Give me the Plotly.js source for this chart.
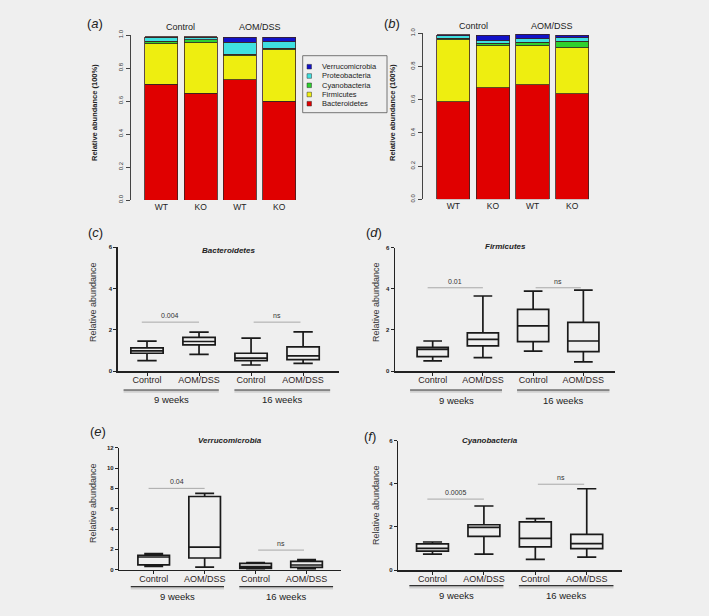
<!DOCTYPE html>
<html><head><meta charset="utf-8">
<script src="https://cdn.plot.ly/plotly-3.0.1.min.js"></script>
<style>html,body{margin:0;padding:0;background:#efefef;}</style>
</head><body><div id="chart" style="width:709px;height:616px;"></div>
<script>
// ---------- DATA ----------
const phyla = ['Bacteroidetes','Firmicutes','Cyanobacteria','Proteobacteria','Verrucomicrobia'];
const barLabels = ['WT','KO','WT','KO'];
const barTreatments = ['Control','AOM/DSS'];
// panel (a)
const aBacteroidetes   = [0.703, 0.648, 0.729, 0.600];
const aFirmicutes      = [0.244, 0.306, 0.146, 0.311];
const aCyanobacteria   = [0.015, 0.016, 0.008, 0.008];
const aProteobacteria  = [0.024, 0.016, 0.073, 0.041];
const aVerrucomicrobia = [0.002, 0.002, 0.030, 0.026];
// panel (b)
const bBacteroidetes   = [0.588, 0.673, 0.689, 0.637];
const bFirmicutes      = [0.372, 0.253, 0.237, 0.275];
const bCyanobacteria   = [0.010, 0.014, 0.020, 0.040];
const bProteobacteria  = [0.014, 0.016, 0.020, 0.022];
const bVerrucomicrobia = [0.006, 0.032, 0.028, 0.014];

const boxLabels = ['Control','AOM/DSS','Control','AOM/DSS'];
const weekLabels = ['9 weeks','16 weeks'];
// (c) Bacteroidetes
const cMin = [0.50, 0.81, 0.29, 0.37];
const cQ1  = [0.86, 1.27, 0.50, 0.55];
const cMed = [0.98, 1.43, 0.62, 0.73];
const cQ3  = [1.12, 1.63, 0.86, 1.17];
const cMax = [1.45, 1.89, 1.59, 1.90];
const cSigY = [2.37, 2.37]; const cSigText = ['0.004','ns'];
// (d) Firmicutes
const dMin = [0.49, 0.65, 0.97, 0.44];
const dQ1  = [0.70, 1.22, 1.43, 0.94];
const dMed = [1.05, 1.54, 2.20, 1.46];
const dQ3  = [1.15, 1.86, 3.00, 2.37];
const dMax = [1.46, 3.65, 3.89, 3.94];
const dSigY = [4.05, 4.05]; const dSigText = ['0.01','ns'];
// (e) Verrucomicrobia
const eMin = [0.33, 0.26, 0.07, 0.07];
const eQ1  = [0.48, 1.15, 0.13, 0.23];
const eMed = [1.25, 2.23, 0.30, 0.46];
const eQ3  = [1.42, 7.20, 0.62, 0.82];
const eMax = [1.58, 7.50, 0.69, 1.00];
const eSigY = [8.0, 1.93]; const eSigText = ['0.04','ns'];
// (f) Cyanobacteria
const fMin = [0.74, 0.74, 0.49, 0.60];
const fQ1  = [0.88, 1.56, 1.07, 0.99];
const fMed = [1.00, 1.98, 1.47, 1.22];
const fQ3  = [1.21, 2.10, 2.23, 1.65];
const fMax = [1.30, 2.97, 2.38, 3.77];
const fSigY = [3.29, 3.98]; const fSigText = ['0.0005','ns'];

// ---------- STYLE / LAYOUT HELPERS ----------
const W = 709, H = 616;
const PX = v => v / W;
const PY = v => 1 - v / H;
const FONT = 'Liberation Sans, Arial, Helvetica, sans-serif';
const colors = ['#e00000', '#eeee10', '#2ed02e', '#3fe0e0', '#1212c8'];
const bg = '#efefef';

const aSeries = [aBacteroidetes, aFirmicutes, aCyanobacteria, aProteobacteria, aVerrucomicrobia];
const bSeries = [bBacteroidetes, bFirmicutes, bCyanobacteria, bProteobacteria, bVerrucomicrobia];
const pos = [0, 1, 2, 3];

const traces = [];
[[aSeries, 'x', 'y'], [bSeries, 'x2', 'y2']].forEach(([ser, xa, ya]) => {
  ser.forEach((vals, i) => {
    traces.push({
      type: 'bar', x: pos, y: vals, xaxis: xa, yaxis: ya, name: phyla[i],
      width: 0.84, showlegend: false, hoverinfo: 'skip',
      marker: { color: colors[i], line: { color: '#3a2222', width: 0.8 } }
    });
  });
});

const boxSets = [
  { xa: 'x3', ya: 'y3', mn: cMin, q1: cQ1, md: cMed, q3: cQ3, mx: cMax },
  { xa: 'x4', ya: 'y4', mn: dMin, q1: dQ1, md: dMed, q3: dQ3, mx: dMax },
  { xa: 'x5', ya: 'y5', mn: eMin, q1: eQ1, md: eMed, q3: eQ3, mx: eMax },
  { xa: 'x6', ya: 'y6', mn: fMin, q1: fQ1, md: fMed, q3: fQ3, mx: fMax },
];
boxSets.forEach(s => {
  traces.push({
    type: 'box', x: pos, q1: s.q1, median: s.md, q3: s.q3,
    lowerfence: s.mn, upperfence: s.mx, xaxis: s.xa, yaxis: s.ya,
    width: 0.62, whiskerwidth: 0.6, boxpoints: false, showlegend: false,
    hoverinfo: 'skip', fillcolor: 'rgba(0,0,0,0)',
    line: { color: '#1a1a1a', width: 1.7 }
  });
});

// axes
function barX(domPx, rng) {
  return { domain: [PX(domPx[0]), PX(domPx[1])], range: rng, showline: false, showgrid: false,
    zeroline: false, ticks: '', tickvals: pos, ticktext: barLabels, fixedrange: true,
    tickfont: { family: FONT, size: 8.5, color: '#222' } };
}
function barY(domPy) {
  return { domain: [PY(domPy[0]), PY(domPy[1])], range: [0, 1], showline: true, linecolor: '#444',
    linewidth: 1, showgrid: false, zeroline: false, ticks: 'outside', ticklen: 4, tickcolor: '#444',
    tickvals: [0, 0.2, 0.4, 0.6, 0.8, 1.0], ticktext: ['0.0','0.2','0.4','0.6','0.8','1.0'],
    tickangle: -90, tickfont: { family: FONT, size: 6, color: '#333' }, fixedrange: true };
}
function boxX(domPx, rng) {
  return { domain: [PX(domPx[0]), PX(domPx[1])], range: rng, showline: true, linecolor: '#222',
    linewidth: 1.5, showgrid: false, zeroline: false, ticks: 'outside', ticklen: 3, tickcolor: '#222',
    tickvals: pos, ticktext: boxLabels, fixedrange: true, ticklabelstandoff: -3,
    tickfont: { family: FONT, size: 9, color: '#2e2424' } };
}
function boxY(domPy, top) {
  return { domain: [PY(domPy[0]), PY(domPy[1])], range: [0, top], dtick: 2, showline: true,
    linecolor: '#222', linewidth: 1.5, showgrid: false, zeroline: false, ticks: 'outside',
    ticklen: 3, tickcolor: '#222', tickfont: { family: FONT, size: 6, color: '#222', weight: 'bold' },
    fixedrange: true };
}

const layout = {
  width: W, height: H, margin: { l: 0, r: 0, t: 0, b: 0 },
  paper_bgcolor: bg, plot_bgcolor: 'rgba(0,0,0,0)', barmode: 'stack', showlegend: false,
  font: { family: FONT },
  xaxis: barX([130.7, 300], [-0.78, 3.53]), yaxis: barY([200, 35]),
  xaxis2: barX([422.7, 600], [-0.77, 3.70]), yaxis2: barY([199.3, 33.3]),
  xaxis3: boxX([117.7, 339], [-0.563, 3.69]), yaxis3: boxY([371, 247.3], 6),
  xaxis4: boxX([395, 615], [-0.75, 3.63]), yaxis4: boxY([371, 247.7], 6),
  xaxis5: boxX([119.3, 340.7], [-0.675, 3.67]), yaxis5: boxY([569.7, 447.7], 12),
  xaxis6: boxX([398.3, 621.7], [-0.665, 3.68]), yaxis6: boxY([570, 440.7], 6),
  annotations: [], shapes: []
};
layout.xaxis.anchor = 'y'; layout.yaxis.anchor = 'x';
layout.xaxis2.anchor = 'y2'; layout.yaxis2.anchor = 'x2';
for (let k = 3; k <= 6; k++) { layout['xaxis' + k].anchor = 'y' + k; layout['yaxis' + k].anchor = 'x' + k; }

const ann = layout.annotations, shp = layout.shapes;
function txt(x, y, text, size, opts) {
  ann.push(Object.assign({ x: x, y: y, xref: 'paper', yref: 'paper', text: text, showarrow: false,
    xanchor: 'center', yanchor: 'middle', font: { family: FONT, size: size, color: '#222' } }, opts || {}));
}
// panel letters
[['a', 95, 23], ['b', 392, 23], ['c', 95, 232], ['d', 374, 232], ['e', 98, 431], ['f', 370, 436]]
  .forEach(([l, x, y]) => txt(PX(x), PY(y), '(<i>' + l + '</i>)', 13, { font: { family: FONT, size: 13, color: '#222' } }));

// bar panels: treatment headers and y titles
[['x', 32.5], ['x2', 32]].forEach(([xa, y]) => {
  barTreatments.forEach((t, i) => {
    ann.push({ x: 0.5 + 2 * i, y: PY(y), xref: xa, yref: 'paper', text: t, showarrow: false,
      xanchor: 'center', yanchor: 'bottom', borderpad: 0, font: { family: FONT, size: 9, color: '#222' } });
  });
});
txt(PX(95), PY(113), 'Relative abundance (100%)', 7.5, { textangle: -90, font: { family: FONT, size: 7.5, color: '#222', weight: 'bold' } });
txt(PX(393), PY(113), 'Relative abundance (100%)', 7.5, { textangle: -90, font: { family: FONT, size: 7.5, color: '#222', weight: 'bold' } });

// manual legend for panel (a)
shp.push({ type: 'rect', xref: 'paper', yref: 'paper', x0: PX(302.7), x1: PX(387), y0: PY(112.7), y1: PY(55.7),
  line: { color: '#555', width: 0.8 }, fillcolor: bg });
const legRows = [66.7, 76.0, 85.3, 94.5, 103.7];
for (let r = 0; r < 5; r++) {
  const i = 4 - r;
  const yc = legRows[r];
  shp.push({ type: 'rect', xref: 'paper', yref: 'paper', x0: PX(307), x1: PX(311.5), y0: PY(yc + 2.3), y1: PY(yc - 2.3),
    line: { color: '#333', width: 0.5 }, fillcolor: colors[i] });
  txt(PX(320), PY(yc), phyla[i], 7.5, { xanchor: 'left', font: { family: FONT, size: 7.5, color: '#222' } });
}

// box panels
const boxPanels = [
  { xa: 'x3', ya: 'y3', title: 'Bacteroidetes', tx: 228, ty: 250, ytx: 93, yty: 302, line: 390, wk: 399.5, sigY: cSigY, sigT: cSigText },
  { xa: 'x4', ya: 'y4', title: 'Firmicutes', tx: 505, ty: 246, ytx: 376, yty: 302, line: 390, wk: 400, sigY: dSigY, sigT: dSigText },
  { xa: 'x5', ya: 'y5', title: 'Verrucomicrobia', tx: 230, ty: 440, ytx: 93, yty: 503, line: 586.7, wk: 596.5, sigY: eSigY, sigT: eSigText },
  { xa: 'x6', ya: 'y6', title: 'Cyanobacteria', tx: 490, ty: 440, ytx: 376, yty: 505, line: 585.7, wk: 595.5, sigY: fSigY, sigT: fSigText },
];
const sigSpans = [[-0.1, 1.0], [2.05, 2.95]];
const weekSpans = [[-0.45, 1.38], [1.68, 3.52]];
boxPanels.forEach(p => {
  txt(PX(p.tx), PY(p.ty), '<b><i>' + p.title + '</i></b>', 8, { font: { family: FONT, size: 8, color: '#222' } });
  txt(PX(p.ytx), PY(p.yty), 'Relative abundance', 9, { textangle: -90, font: { family: FONT, size: 9, color: '#333' } });
  for (let g = 0; g < 2; g++) {
    shp.push({ type: 'line', xref: p.xa, yref: 'paper', x0: weekSpans[g][0], x1: weekSpans[g][1],
      y0: PY(p.line + 1.6), y1: PY(p.line + 1.6), line: { color: 'rgba(0,0,0,0.13)', width: 2.5 } });
    shp.push({ type: 'line', xref: p.xa, yref: 'paper', x0: weekSpans[g][0], x1: weekSpans[g][1],
      y0: PY(p.line), y1: PY(p.line), line: { color: '#333', width: 1.2 } });
    ann.push({ x: (weekSpans[g][0] + weekSpans[g][1]) / 2, y: PY(p.wk), xref: p.xa, yref: 'paper',
      text: weekLabels[g], showarrow: false, borderpad: 0, xanchor: 'center', yanchor: 'middle',
      font: { family: FONT, size: 9.5, color: '#222' } });
    shp.push({ type: 'line', xref: p.xa, yref: p.ya, x0: sigSpans[g][0], x1: sigSpans[g][1],
      y0: p.sigY[g], y1: p.sigY[g], line: { color: '#a8a8a8', width: 1 } });
    ann.push({ x: (sigSpans[g][0] + sigSpans[g][1]) / 2, y: p.sigY[g], xref: p.xa, yref: p.ya,
      text: p.sigT[g], showarrow: false, xanchor: 'center', yanchor: 'bottom', yshift: 1,
      font: { family: FONT, size: 7, color: '#333' } });
  }
});

Plotly.newPlot('chart', traces, layout, { staticPlot: true, displayModeBar: false });
</script></body></html>
